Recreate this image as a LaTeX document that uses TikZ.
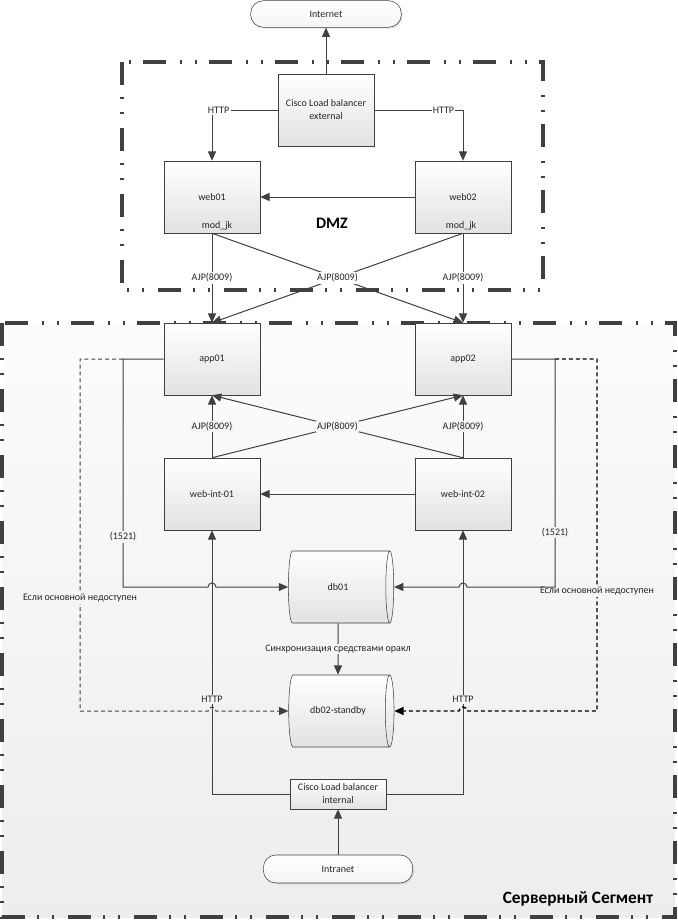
\documentclass[tikz,border=0pt]{standalone}
\usepackage{fontspec}
\setmainfont{Carlito}
\usetikzlibrary{
  arrows.meta,
  shapes.geometric,
  shadows
}
\definecolor{linec}{RGB}{64,64,64}
\definecolor{boxbot}{RGB}{226,226,226}
\definecolor{srvtop}{RGB}{252,252,252}
\definecolor{srvbot}{RGB}{237,237,237}
\definecolor{srvbg}{RGB}{245,245,245}

\begin{document}
\begin{tikzpicture}[x=0.75pt, y=-0.75pt,
  every node/.style={font=\fontsize{7.5}{9.75}\selectfont, text=black!85},
  box/.style={draw=linec, top color=white, bottom color=boxbot,
    minimum width=72pt, minimum height=54pt, align=center,
    drop shadow={shadow xshift=1pt, shadow yshift=-1pt, opacity=0.2}},
  pill/.style={draw=linec, rounded corners=9.5pt, top color=white, bottom color=srvbg,
    minimum width=113pt, minimum height=20pt,
    drop shadow={shadow xshift=1pt, shadow yshift=-1pt, opacity=0.2}},
  db/.style={cylinder, shape border rotate=0, aspect=0.5, draw=linec,
    top color=white, bottom color=boxbot, minimum height=79pt, minimum width=54pt},
  zone/.style={draw=linec, line width=2.3pt,
    dash pattern=on 17pt off 9.5pt on 1.5pt off 9.5pt on 1.5pt off 10.5pt},
  zonetxt/.style={font=\fontsize{13}{15}\selectfont\bfseries, text=black},
  conn/.style={draw=linec, line width=0.75pt, -{Triangle[length=7pt, width=6pt]}},
  dconn/.style={conn, dash pattern=on 3pt off 2.2pt},
  lbl/.style={fill=white, inner sep=1pt},
  lblg/.style={fill=srvbg, inner sep=1pt}
]
  \useasboundingbox (0,0) rectangle (678,921);
  \def\Xa{212}
  \def\Xb{463}
  \def\Xt{326}
  \def\Xm{338}

  % zones
  \draw[zone, top color=srvtop, bottom color=srvbot] (2,323) rectangle (675,917);
  \draw[zone] (122,62) rectangle (543,290);
  \node[zonetxt, font=\fontsize{12}{14}\selectfont\bfseries] (dmz) at (332,223) {DMZ};
  \node[zonetxt] (srv) at (578,899) {Серверный Сегмент};

  % DMZ
  \node[pill] (inet) at (\Xt,14) {Internet};
  \node[box] (lbext) at (\Xt,110) {Cisco Load balancer\\external};
  \node[box] (web01) at (\Xa,197) {web01};
  \node[box] (web02) at (\Xb,197) {web02};
  \node (mj1) at (217,226) {mod\_jk};
  \node (mj2) at (461,226) {mod\_jk};

  % server segment
  \node[box] (app01) at (\Xa,359) {app01};
  \node[box] (app02) at (\Xb,359) {app02};
  \node[box] (wi1) at (\Xa,494) {web-int-01};
  \node[box] (wi2) at (\Xb,494) {web-int-02};
  \node[db] (db01) at (\Xm,587) {db01};
  \node[db] (db02) at (\Xm,711) {db02-standby};
  \node[box, minimum height=22.5pt, inner sep=1pt] (lbint) at (\Xm,794) {Cisco Load balancer\\internal};
  \node[pill, minimum width=112pt, minimum height=21pt] (intra) at (\Xm,869) {Intranet};

  \coordinate (bl) at (123,587);
  \coordinate (br) at (555,587);
  \coordinate (dl) at (80,711);
  \coordinate (dr) at (597,711);

  % links
  \draw[conn] (lbext) -- (inet);
  \draw[conn] (lbext.west) -| node[lbl, pos=0.45] {HTTP} (web01.north);
  \draw[conn] (lbext.east) -| node[lbl, pos=0.39] {HTTP} (web02.north);
  \draw[conn] (web02) -- (web01);
  \draw[conn] (web01.south) -- node[lbl] {AJP(8009)} (app01.north);
  \draw[conn] (web02.south) -- node[lbl] {AJP(8009)} (app02.north);
  \draw[conn] (web01.south) -- (app02.north);
  \draw[conn] (web02.south) -- node[lbl] {AJP(8009)} (app01.north);

  \draw[conn] (wi1.north) -- node[lblg] {AJP(8009)} (app01.south);
  \draw[conn] (wi2.north) -- node[lblg] {AJP(8009)} (app02.south);
  \draw[conn] (wi1.north) -- (app02.south);
  \draw[conn] (wi2.north) -- node[lblg] {AJP(8009)} (app01.south);
  \draw[conn] (wi2) -- (wi1);

  \draw[conn] (lbint.west) -| node[lblg, pos=0.68] {HTTP} (wi1.south);
  \draw[conn] (lbint.east) -| node[lblg, pos=0.68] {HTTP} (wi2.south);
  \draw[conn] (intra) -- (lbint);
  \draw[conn] (db01) -- node[lblg] {Синхронизация средствами оракл} (db02);

  % oracle links
  \draw[dconn] (app01.west -| bl) -| node[lblg, pos=0.84] {Если основной недоступен} (dl)
    -- ([xshift=-3pt]wi1.south |- dl) arc[start angle=180, end angle=0, radius=3pt] -- (db02.west);
  \draw[dconn, draw=black, line width=1.1pt] (app02.east -| br) -| node[lblg, pos=0.83] {Если основной недоступен} (dr)
    -- ([xshift=3pt]wi2.south |- dr) arc[start angle=0, end angle=180, radius=3pt] -- (db02.east);
  \draw[conn] (app01.west) -| node[lblg, pos=0.89] {(1521)} (bl)
    -- ([xshift=-3pt]wi1.south |- bl) arc[start angle=180, end angle=0, radius=3pt] -- (db01.west);
  \draw[conn] (app02.east) -| node[lblg, pos=0.88] {(1521)} (br)
    -- ([xshift=3pt]wi2.south |- br) arc[start angle=0, end angle=180, radius=3pt] -- (db01.east);
\end{tikzpicture}
\end{document}
